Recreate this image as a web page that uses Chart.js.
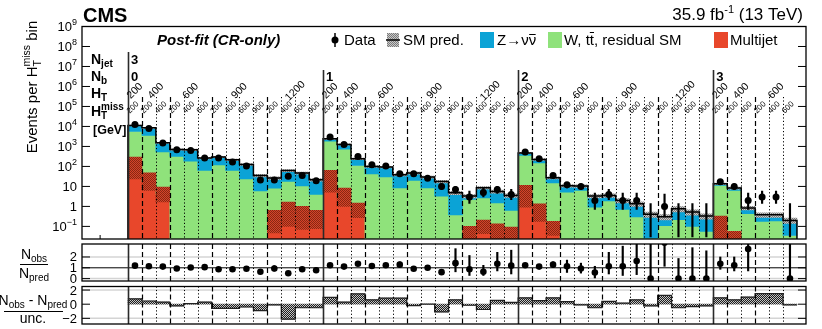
<!DOCTYPE html>
<html><head><meta charset="utf-8">
<script src="https://cdn.jsdelivr.net/npm/chart.js@4.4.1/dist/chart.umd.min.js"></script>
<style>
html,body{margin:0;padding:0;background:#fff;}
#wrap{position:relative;width:822px;height:329px;overflow:hidden;background:#fff;}
canvas{position:absolute;left:0;}
</style></head><body>
<div id="wrap">
<canvas id="cMain" width="822" height="245" style="top:0px"></canvas>
<canvas id="cRatio" width="822" height="45" style="top:240px"></canvas>
<canvas id="cPull" width="822" height="44" style="top:285px"></canvas>
</div>
<script>
// ---------------- data ----------------
const njetLabel = '3';
const nbLabels = ['0', '1', '2', '3'];
const htLabels = [
  ['200', '400', '600', '900', '1200'],
  ['200', '400', '600', '900', '1200'],
  ['200', '400', '600', '900', '1200'],
  ['200', '400', '600']
];
const htmissLabels = [
  [['200'], ['200', '400'], ['200', '400', '600'], ['200', '400', '600', '900'], ['200', '400', '600', '900']],
  [['200'], ['200', '400'], ['200', '400', '600'], ['200', '400', '600', '900'], ['200', '400', '600', '900']],
  [['200'], ['200', '400'], ['200', '400', '600'], ['200', '400', '600', '900'], ['200', '400', '600', '900']],
  [['200'], ['200', '400'], ['200', '400', '600']]
];

const multijet = [85, 17.4, 4.0, 0, 0, 0, 0, 0, 0, 0, 0.17, 0.41, 0.26, 0.22,
  18.2, 2.9, 0.63, 0, 0, 0, 0, 0, 0, 0, 0.03, 0.095, 0.037, 0.03,
  3.2, 0.49, 0.079, 0, 0, 0, 0, 0, 0, 0, 0, 0, 0, 0,
  0.06, 0.024, 0, 0, 0, 0];
const wttResid = [5515, 3533, 521, 316, 186, 63, 120, 63, 24, 5.9, 8.1, 17.4, 10.2, 3.8,
  1842, 737, 111, 42.7, 29.5, 8.3, 20, 8.5, 3.3, 0.38, 2.21, 2.54, 1.44, 0.6,
  352, 147.5, 14.7, 5.2, 6.3, 0.93, 1.86, 0.71, 0.30, 0.026, 0.11, 0.22, 0.10, 0.056,
  11.1, 6.28, 0.43, 0.18, 0.19, 0.035];
const zinv = [5600, 4950, 985, 394, 489, 200, 175, 151, 102, 29.6, 18, 45.2, 36.3, 17.4,
  540, 520, 128, 57.3, 63.5, 29.7, 26.8, 21, 14.5, 4.42, 1.06, 5.87, 4.12, 2.92,
  113, 76, 12.1, 5.5, 4.2, 2.37, 1.69, 1.29, 1.05, 0.374, 0.19, 0.54, 0.42, 0.274,
  2.3, 2.0, 0.40, 0.20, 0.19, 0.165];
const multijetLo = [24, 6.3, 1.66, null, null, null, null, null, null, null, 0.047, 0.1, 0.071, 0.076,
  5.2, 1.0, 0.27, null, null, null, null, null, null, null, 0.01, 0.043, 0.01, 0.01,
  0.93, 0.18, 0.035, null, null, null, null, null, null, null, null, null, null, null,
  0.01, 0.01, null, null, null, null];
const multijetHi = [295, 48, 9.3, null, null, null, null, null, null, null, 0.63, 1.66, 1.0, 0.63,
  63, 8.3, 1.48, null, null, null, null, null, null, null, 0.1, 0.21, 0.135, 0.093,
  11.2, 1.35, 0.18, null, null, null, null, null, null, null, null, null, null, null,
  0.33, 0.056, null, null, null, null];
const predUncRel = [0.06, 0.06, 0.07, 0.08, 0.08, 0.09, 0.08, 0.09, 0.10, 0.15, 0.15, 0.12, 0.12, 0.15,
  0.06, 0.07, 0.10, 0.10, 0.10, 0.12, 0.12, 0.12, 0.15, 0.20, 0.20, 0.15, 0.18, 0.20,
  0.08, 0.10, 0.12, 0.15, 0.15, 0.20, 0.20, 0.25, 0.25, 0.30, 0.30, 0.30, 0.30, 0.30,
  0.10, 0.12, 0.20, 0.25, 0.25, 0.30];
const dataObs = [12600, 7900, 1480, 690, 630, 263, 263, 166, 105, 21, 21, 32, 35, 19,
  2950, 1260, 316, 120, 105, 43, 43, 26, 10, 7, 3, 5, 7, 4,
  525, 240, 35, 12, 10, 2, 4, 2, 2, 0, 1, 0, 0, 0,
  17, 10, 2, 3, 3, 0];
const dataLo = [12490, 7810, 1440, 664, 605, 247, 247, 153, 95, 16.5, 16.5, 26.5, 29, 15,
  2895, 1225, 298, 109, 95, 36.5, 36.5, 21, 7, 4.5, 1.4, 3, 4.5, 2.2,
  502, 225, 29, 8.5, 7, 0.7, 2.2, 0.7, 0.7, 0.03, 0.3, 0.03, 0.03, 0.03,
  13, 7, 0.7, 1.4, 1.4, 0.03];
const dataHi = [12710, 7990, 1520, 716, 655, 279, 279, 179, 115, 26, 26, 38, 41, 24,
  3005, 1295, 334, 131, 115, 50, 50, 31, 13.5, 10, 5.9, 8.5, 10, 7.1,
  548, 256, 41, 15.5, 13.5, 4.6, 7.1, 4.6, 4.6, 1.4, 4.2, 1.4, 1.4, 1.4,
  21, 13.5, 4.6, 5.9, 5.9, 1.4];
const ratioObsPred = [1.20, 1.14, 1.11, 0.94, 1.03, 1.06, 0.86, 0.86, 0.91, 0.63, 0.94, 0.49, 0.86, 0.77,
  1.23, 1.11, 1.37, 1.17, 1.23, 1.29, 0.91, 1.00, 0.60, 1.43, 0.86, 0.63, 1.37, 1.20,
  1.23, 1.11, 1.29, 1.14, 0.94, 0.57, 1.14, 1.14, 1.63, 0, 3.33, 0, 0, 0,
  1.37, 1.23, 2.74, 7.9, 7.9, 0];
const ratioLo = [1.18, 1.12, 1.06, 0.88, 0.97, 0.90, 0.80, 0.78, 0.80, 0.45, 0.70, 0.40, 0.68, 0.55,
  1.18, 1.05, 1.20, 1.00, 1.05, 1.05, 0.75, 0.82, 0.42, 0.63, 0.29, 0.29, 0.71, 0.43,
  1.15, 0.98, 1.05, 0.57, 0.51, 0.06, 0.43, 0.29, 0.37, 0, 1.14, 0, 0, 0,
  0.86, 0.71, 0.71, 3.5, 3.5, 0];
const ratioHi = [1.22, 1.16, 1.16, 1.00, 1.09, 1.22, 0.92, 0.94, 1.02, 0.83, 1.20, 0.58, 1.06, 1.00,
  1.28, 1.17, 1.55, 1.35, 1.40, 1.55, 1.10, 1.20, 0.80, 2.77, 2.14, 1.23, 2.43, 2.63,
  1.31, 1.24, 1.55, 1.71, 1.43, 1.14, 2.43, 3.00, 3.30, 4.6, 7.0, 1.86, 2.86, 2.57,
  2.00, 2.00, 4.5, 12, 12, 9];
const pullValues = [0.75, 0.45, 0.3, -0.25, 0.08, 0.3, -0.6, -0.6, -0.4, -0.9, -0.1, -2.1, -0.5, -0.5,
  0.95, 0.3, 1.45, 0.6, 0.85, 0.85, -0.2, 0.0, -1.1, 0.6, -0.15, -0.75, 0.55, 0.25,
  0.9, 0.5, 0.9, 0.35, -0.1, -0.5, 0.4, 0.15, 0.6, -0.25, 1.25, -0.5, -0.35, -0.25,
  0.9, 0.6, 1.0, 1.5, 1.5, -0.1];
const yTickExps = [-1, 0, 1, 2, 3, 4, 5, 6, 7, 8, 9];
const ratioTicks = [0, 1, 2];
const pullTicks = [-2, 0, 2];

// ---------------- structure ----------------
const FONT = '"Liberation Sans", Arial, Helvetica, sans-serif';
const RED = '#e8472b', GREEN = '#8fe27b', BLUE = '#0ba3d6';
const FLOOR = 1e-4;
const binHtmiss = [], nbStart = [], htGroups = [];
(function () {
  let b = 0;
  htmissLabels.forEach((grp, gi) => {
    nbStart.push(b);
    grp.forEach((ht, hi) => {
      htGroups.push({ start: b, n: ht.length, label: htLabels[gi][hi], first: hi === 0 });
      ht.forEach(l => { binHtmiss.push(l); b++; });
    });
  });
})();
const NBINS = binHtmiss.length;
const htStartBins = htGroups.filter(g => !g.first).map(g => g.start);

function fontStr(s) {
  return (s.italic ? 'italic ' : '') + (s.bold ? 'bold ' : '') + (s.size || 13) + 'px ' + FONT;
}
function richWidth(ctx, segs) {
  let w = 0, pend = 0;
  for (const s of segs) {
    ctx.font = fontStr(s);
    const m = ctx.measureText(s.t).width;
    if (s.overlay) pend = m; else { w += Math.max(m, pend); pend = 0; }
  }
  return w;
}
function drawRich(ctx, segs, x0, y0, align) {
  const W = richWidth(ctx, segs);
  let x = align === 'center' ? x0 - W / 2 : align === 'right' ? x0 - W : x0;
  let pend = 0;
  ctx.textAlign = 'left'; ctx.textBaseline = 'alphabetic';
  const pos = [];
  for (const s of segs) {
    ctx.font = fontStr(s);
    ctx.fillText(s.t, x, y0 + (s.dy || 0));
    const m = ctx.measureText(s.t).width;
    pos.push({ x: x, w: m });
    if (s.overlay) pend = m; else { x += Math.max(m, pend); pend = 0; }
  }
  return pos;
}
function makePattern(ctx, c1, c2) {
  const p = document.createElement('canvas'); p.width = 2; p.height = 2;
  const g = p.getContext('2d');
  g.fillStyle = c1; g.fillRect(0, 0, 2, 2);
  g.fillStyle = c2; g.fillRect(0, 0, 1, 1); g.fillRect(1, 1, 1, 1);
  return ctx.createPattern(p, 'repeat');
}

function drawSeparators(chart, mode) {
  const { ctx, chartArea: a, scales: { x } } = chart;
  ctx.save();
  ctx.beginPath(); ctx.rect(a.left, 0, a.right - a.left, a.bottom); ctx.clip();
  for (let i = 0; i < NBINS; i++) {
    const px = Math.round(x.getPixelForValue(i)) + 0.5;
    let top = a.top;
    ctx.beginPath();
    if (nbStart.includes(i)) {
      if (mode === 'main') top = (i === 0) ? 52 : 70;
      ctx.setLineDash([]); ctx.lineWidth = 1.6; ctx.strokeStyle = '#2a2a2a';
    } else if (htStartBins.includes(i)) {
      if (mode === 'main') top = 97;
      ctx.setLineDash([5, 3]); ctx.lineWidth = 1.2; ctx.strokeStyle = '#000';
    } else {
      if (mode === 'main') top = 97;
      ctx.setLineDash([1.2, 2.2]); ctx.lineWidth = 1; ctx.strokeStyle = '#000';
    }
    ctx.moveTo(px, top); ctx.lineTo(px, a.bottom);
    ctx.stroke();
  }
  ctx.restore();
}
function drawFrame(ctx, a) {
  ctx.save();
  ctx.setLineDash([]);
  ctx.lineWidth = 1.3; ctx.strokeStyle = '#000';
  ctx.strokeRect(a.left, a.top, a.right - a.left, a.bottom - a.top);
  ctx.restore();
}
function yTicks(ctx, a, py, len) {
  ctx.beginPath();
  ctx.moveTo(a.left, py); ctx.lineTo(a.left + len, py);
  ctx.moveTo(a.right, py); ctx.lineTo(a.right - len, py);
  ctx.stroke();
}

function baseOptions(pad, xMin, xMax, yScale) {
  return {
    responsive: false, animation: false, events: [],
    layout: { padding: pad },
    plugins: { legend: { display: false }, tooltip: { enabled: false }, title: { display: false } },
    scales: {
      x: { type: 'linear', min: xMin, max: xMax, offset: false, display: false },
      y: Object.assign({ display: false }, yScale)
    }
  };
}

const X_MIN = -3.3, X_MAX = 48.65;

// ---------------- main panel ----------------
(function () {
  const cv = document.getElementById('cMain');
  const c2d = cv.getContext('2d');
  const hatchQCD = makePattern(c2d, '#d4442a', '#8a2712');
  const hatchSM = makePattern(c2d, '#c8c8c8', '#7a7a7a');
  const red = [], green = [], blue = [], qcdBand = [], smBand = [], pts = [], errs = [], step = [];
  step.push({ x: 0, y: FLOOR });
  for (let i = 0; i < NBINS; i++) {
    const xc = i + 0.5;
    const mj = multijet[i];
    const g = mj + wttResid[i];
    const t = g + zinv[i];
    if (mj > 0) red.push({ x: xc, y: [FLOOR, mj] });
    green.push({ x: xc, y: [mj > 0 ? mj : FLOOR, g] });
    blue.push({ x: xc, y: [g, t] });
    if (multijetLo[i] !== null) qcdBand.push({ x: xc, y: [multijetLo[i], multijetHi[i]] });
    smBand.push({ x: xc, y: [t * (1 - predUncRel[i]), t * (1 + predUncRel[i])] });
    if (dataObs[i] > 0) pts.push({ x: xc, y: dataObs[i] });
    errs.push({ x: xc, y: [dataLo[i], dataHi[i]] });
    step.push({ x: i, y: t });
    if (i === NBINS - 1) { step.push({ x: i + 1, y: t }); step.push({ x: i + 1, y: FLOOR }); }
  }
  const barCommon = { grouped: false, barPercentage: 1, categoryPercentage: 1, borderWidth: 0 };
  const plugin = {
    id: 'mainDecor',
    afterDatasetsDraw(chart) { drawSeparators(chart, 'main'); },
    afterDraw(chart) {
      const { ctx, chartArea: a, scales: { x, y } } = chart;
      ctx.save();
      drawFrame(ctx, a);
      ctx.lineWidth = 1; ctx.strokeStyle = '#000'; ctx.fillStyle = '#000';
      yTickExps.forEach(e => {
        const py = y.getPixelForValue(Math.pow(10, e));
        yTicks(ctx, a, py, 8);
        let segs;
        if (e === 0) segs = [{ t: '1', size: 13 }];
        else if (e === 1) segs = [{ t: '10', size: 13 }];
        else segs = [{ t: '10', size: 13 }, { t: e < 0 ? '\u2212' + (-e) : String(e), size: 9, dy: -6 }];
        drawRich(ctx, segs, 77, py + 4.5, 'right');
      });
      const tx = x.getPixelForValue(-2);
      ctx.beginPath(); ctx.moveTo(tx, a.bottom); ctx.lineTo(tx, a.bottom - 4); ctx.stroke();
      ctx.save();
      ctx.translate(37, 87); ctx.rotate(-Math.PI / 2);
      drawRich(ctx, [{ t: 'Events per H', size: 15 }, { t: 'T', size: 10.5, dy: 4, overlay: true },
        { t: 'miss', size: 10.5, dy: -7 }, { t: ' bin', size: 15 }], 0, 0, 'center');
      ctx.restore();
      drawRich(ctx, [{ t: 'CMS', size: 20, bold: true }], 83, 22, 'left');
      drawRich(ctx, [{ t: '35.9 fb', size: 17 }, { t: '-1', size: 11, dy: -7 }, { t: ' (13 TeV)', size: 17 }], 803, 20, 'right');
      drawRich(ctx, [{ t: 'Post-fit (CR-only)', size: 15, bold: true, italic: true }], 157, 45, 'left');
      ctx.lineWidth = 1.5;
      ctx.beginPath(); ctx.moveTo(335, 33); ctx.lineTo(335, 47); ctx.stroke();
      ctx.beginPath(); ctx.arc(335, 40, 3.5, 0, Math.PI * 2); ctx.fill();
      drawRich(ctx, [{ t: 'Data', size: 15 }], 344, 45, 'left');
      ctx.fillStyle = hatchSM; ctx.fillRect(387, 33, 12, 14);
      ctx.fillStyle = '#000';
      ctx.beginPath(); ctx.moveTo(386, 40); ctx.lineTo(400, 40); ctx.stroke();
      drawRich(ctx, [{ t: 'SM pred.', size: 15 }], 403, 45, 'left');
      ctx.fillStyle = BLUE; ctx.fillRect(480, 32, 14, 16);
      ctx.fillStyle = '#000';
      let p = drawRich(ctx, [{ t: 'Z\u2192\u03bd', size: 15 }, { t: '\u03bd', size: 15 }], 497, 45, 'left');
      ctx.lineWidth = 1; ctx.beginPath(); ctx.moveTo(p[1].x + 0.5, 34.5); ctx.lineTo(p[1].x + p[1].w - 0.5, 34.5); ctx.stroke();
      ctx.fillStyle = GREEN; ctx.fillRect(548, 32, 14, 16);
      ctx.fillStyle = '#000';
      p = drawRich(ctx, [{ t: 'W, t', size: 15 }, { t: 't', size: 15 }, { t: ', residual SM', size: 15 }], 564, 45, 'left');
      ctx.beginPath(); ctx.moveTo(p[1].x, 32.5); ctx.lineTo(p[1].x + p[1].w, 32.5); ctx.stroke();
      ctx.fillStyle = RED; ctx.fillRect(714, 32, 14, 16);
      ctx.fillStyle = '#000';
      drawRich(ctx, [{ t: 'Multijet', size: 15 }], 730, 45, 'left');
      drawRich(ctx, [{ t: 'N', size: 14, bold: true }, { t: 'jet', size: 10, bold: true, dy: 3 }], 91, 64, 'left');
      drawRich(ctx, [{ t: 'N', size: 14, bold: true }, { t: 'b', size: 10, bold: true, dy: 3 }], 91, 81, 'left');
      drawRich(ctx, [{ t: 'H', size: 14, bold: true }, { t: 'T', size: 10, bold: true, dy: 3 }], 91, 98, 'left');
      drawRich(ctx, [{ t: 'H', size: 14, bold: true }, { t: 'T', size: 10, bold: true, dy: 3, overlay: true },
        { t: 'miss', size: 10, bold: true, dy: -6 }], 91, 116, 'left');
      drawRich(ctx, [{ t: '[GeV]', size: 12.5, bold: true }], 93, 134, 'left');
      drawRich(ctx, [{ t: njetLabel, size: 13, bold: true }], x.getPixelForValue(nbStart[0]) + 3, 64, 'left');
      nbLabels.forEach((l, k) => {
        drawRich(ctx, [{ t: l, size: 13, bold: true }], x.getPixelForValue(nbStart[k]) + 3, 81, 'left');
      });
      htGroups.forEach(g => {
        const cx = x.getPixelForValue(g.start + g.n / 2);
        ctx.save(); ctx.translate(cx, 91); ctx.rotate(-Math.PI / 4);
        ctx.font = '10.5px ' + FONT; ctx.textAlign = 'center'; ctx.textBaseline = 'middle';
        ctx.fillText(g.label, 0, 0); ctx.restore();
      });
      binHtmiss.forEach((l, i) => {
        const cx = x.getPixelForValue(i) + 5;
        ctx.save(); ctx.translate(cx, 107.5); ctx.rotate(-Math.PI / 4);
        ctx.font = '8px ' + FONT; ctx.textAlign = 'center'; ctx.textBaseline = 'middle';
        ctx.fillText(l, 0, 0); ctx.restore();
      });
      ctx.restore();
    }
  };
  new Chart(cv, {
    type: 'bar',
    data: {
      datasets: [
        { type: 'line', data: pts, showLine: false, pointRadius: 3.5, pointBackgroundColor: '#000', pointBorderWidth: 0, order: 0 },
        { data: errs, backgroundColor: '#000', barThickness: 1.5, grouped: false, borderWidth: 0, order: 1 },
        { type: 'line', data: step, stepped: 'before', borderColor: '#000', borderWidth: 1.5, pointRadius: 0, fill: false, order: 2 },
        Object.assign({ data: smBand, backgroundColor: hatchSM, order: 3 }, barCommon),
        Object.assign({ data: qcdBand, backgroundColor: hatchQCD, order: 4 }, barCommon),
        Object.assign({ data: blue, backgroundColor: BLUE, order: 5 }, barCommon),
        Object.assign({ data: green, backgroundColor: GREEN, order: 6 }, barCommon),
        Object.assign({ data: red, backgroundColor: RED, order: 7 }, barCommon)
      ]
    },
    options: baseOptions({ left: 82, right: 16, top: 26.5, bottom: 6 }, X_MIN, X_MAX,
      { type: 'logarithmic', min: Math.pow(10, -1.63), max: 1e9 }),
    plugins: [plugin]
  });
})();

// ---------------- ratio panel ----------------
(function () {
  const cv = document.getElementById('cRatio');
  const TOP = 240;
  const pts = [], errs = [];
  for (let i = 0; i < NBINS; i++) {
    pts.push({ x: i + 0.5, y: ratioObsPred[i] });
    errs.push({ x: i + 0.5, y: [ratioLo[i], ratioHi[i]] });
  }
  const plugin = {
    id: 'ratioDecor',
    beforeDatasetsDraw(chart) {
      const { ctx, chartArea: a, scales: { y } } = chart;
      ctx.save();
      [[0, '#d4d4d4', 1.5], [2, '#d4d4d4', 1.5], [1, '#000', 1]].forEach(([v, c, w]) => {
        const py = y.getPixelForValue(v);
        ctx.strokeStyle = c; ctx.lineWidth = w;
        ctx.beginPath(); ctx.moveTo(a.left, py); ctx.lineTo(a.right, py); ctx.stroke();
      });
      ctx.restore();
    },
    afterDatasetsDraw(chart) { drawSeparators(chart, 'sub'); },
    afterDraw(chart) {
      const { ctx, chartArea: a, scales: { y } } = chart;
      ctx.save();
      drawFrame(ctx, a);
      ctx.strokeStyle = '#000'; ctx.fillStyle = '#000'; ctx.lineWidth = 1;
      ratioTicks.forEach(v => {
        const py = y.getPixelForValue(v);
        yTicks(ctx, a, py, 8);
        drawRich(ctx, [{ t: String(v), size: 13 }], 77, py + 4.5, 'right');
      });
      ctx.translate(0, -TOP);
      drawRich(ctx, [{ t: 'N', size: 14 }, { t: 'obs', size: 10, dy: 3 }], 34, 259, 'center');
      ctx.beginPath(); ctx.moveTo(20, 264.5); ctx.lineTo(48, 264.5); ctx.stroke();
      drawRich(ctx, [{ t: 'N', size: 14 }, { t: 'pred', size: 10, dy: 3 }], 34, 278, 'center');
      ctx.restore();
    }
  };
  new Chart(cv, {
    type: 'bar',
    data: {
      datasets: [
        { type: 'line', data: pts, showLine: false, pointRadius: 3.3, pointBackgroundColor: '#000', pointBorderWidth: 0, order: 0 },
        { data: errs, backgroundColor: '#000', barThickness: 1.5, grouped: false, borderWidth: 0, order: 1 }
      ]
    },
    options: baseOptions({ left: 82, right: 16, top: 3.3, bottom: 1.7 }, X_MIN, X_MAX,
      { type: 'linear', min: -0.22, max: 3.2 }),
    plugins: [plugin]
  });
})();

// ---------------- pull panel ----------------
(function () {
  const cv = document.getElementById('cPull');
  const TOP = 285;
  const c2d = cv.getContext('2d');
  const hatchPull = makePattern(c2d, '#c4c4c4', '#1e1e1e');
  const bars = [], step = [];
  for (let i = 0; i < NBINS; i++) {
    bars.push({ x: i + 0.5, y: [0, pullValues[i]] });
    step.push({ x: i, y: pullValues[i] });
    if (i === NBINS - 1) step.push({ x: i + 1, y: pullValues[i] });
  }
  const plugin = {
    id: 'pullDecor',
    beforeDatasetsDraw(chart) {
      const { ctx, chartArea: a, scales: { y } } = chart;
      ctx.save();
      [[2, '#d4d4d4', 1.5], [-2, '#d4d4d4', 1.5]].forEach(([v, c, w]) => {
        const py = y.getPixelForValue(v);
        ctx.strokeStyle = c; ctx.lineWidth = w;
        ctx.beginPath(); ctx.moveTo(a.left, py); ctx.lineTo(a.right, py); ctx.stroke();
      });
      ctx.restore();
    },
    afterDatasetsDraw(chart) { drawSeparators(chart, 'sub'); },
    afterDraw(chart) {
      const { ctx, chartArea: a, scales: { y } } = chart;
      ctx.save();
      drawFrame(ctx, a);
      ctx.strokeStyle = '#000'; ctx.fillStyle = '#000'; ctx.lineWidth = 1;
      pullTicks.forEach(v => {
        const py = y.getPixelForValue(v);
        yTicks(ctx, a, py, 8);
        drawRich(ctx, [{ t: v < 0 ? '\u2212' + (-v) : String(v), size: 13 }], 77, py + 4.5, 'right');
      });
      ctx.translate(0, -TOP);
      drawRich(ctx, [{ t: 'N', size: 14 }, { t: 'obs', size: 10, dy: 3 }, { t: ' - N', size: 14 }, { t: 'pred', size: 10, dy: 3 }], 33, 305, 'center');
      ctx.beginPath(); ctx.moveTo(4, 311.5); ctx.lineTo(63, 311.5); ctx.stroke();
      drawRich(ctx, [{ t: 'unc.', size: 14 }], 33, 323, 'center');
      ctx.restore();
    }
  };
  new Chart(cv, {
    type: 'bar',
    data: {
      datasets: [
        { type: 'line', data: step, stepped: 'before', borderColor: '#222', borderWidth: 1.2, pointRadius: 0, fill: false, order: 0 },
        { data: bars, backgroundColor: hatchPull, grouped: false, barPercentage: 1, categoryPercentage: 1, borderWidth: 0, order: 1 }
      ]
    },
    options: baseOptions({ left: 82, right: 16, top: 1.5, bottom: 5 }, X_MIN, X_MAX,
      { type: 'linear', min: -2.8, max: 2.5 }),
    plugins: [plugin]
  });
})();
</script>
</body></html>
